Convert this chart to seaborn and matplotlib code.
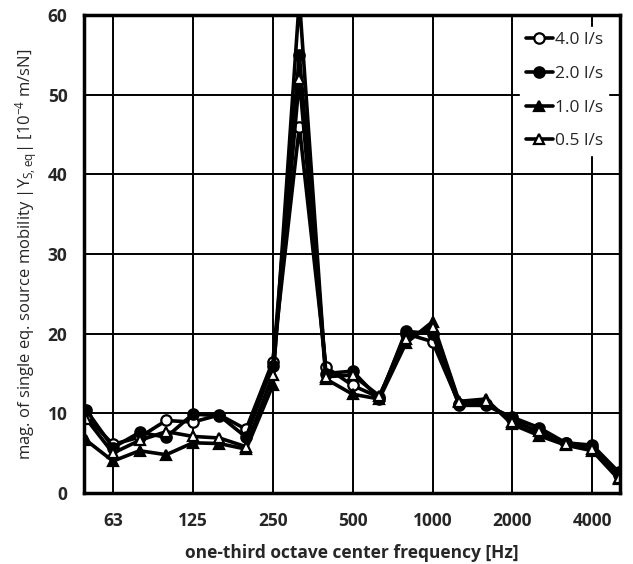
import numpy as np
import pandas as pd
import matplotlib
matplotlib.use("Agg")
import matplotlib.pyplot as plt
import seaborn as sns

# one-third octave bands 50 Hz .. 5000 Hz
freqs = [50, 63, 80, 100, 125, 160, 200, 250, 315, 400, 500, 630,
         800, 1000, 1250, 1600, 2000, 2500, 3150, 4000, 5000]
tick_labels = ["63", "125", "250", "500", "1000", "2000", "4000"]

flow_40 = [9.6, 6.1, 7.0, 9.1, 8.9, 9.8, 8.0, 16.5, 46.0, 15.8, 13.5, 12.0,
           20.0, 19.0, 11.2, 11.2, 9.3, 7.5, 6.3, 5.6, 2.2]
flow_20 = [10.4, 5.7, 7.6, 7.0, 9.9, 9.7, 7.0, 16.0, 55.0, 15.0, 15.3, 11.8,
           20.3, 20.0, 11.0, 11.0, 9.5, 8.2, 6.3, 6.0, 2.6]
flow_10 = [6.6, 4.0, 5.3, 4.8, 6.3, 6.2, 5.5, 13.5, 62.0, 14.3, 12.4, 11.8,
           18.8, 21.5, 11.5, 11.8, 8.6, 7.2, 6.0, 5.3, 1.7]
flow_05 = [9.3, 5.0, 6.6, 7.7, 7.1, 6.9, 5.8, 14.8, 52.0, 14.6, 14.8, 12.2,
           19.3, 20.8, 11.4, 11.5, 8.9, 7.8, 6.1, 5.5, 1.9]

labels = ["4.0 l/s", "2.0 l/s", "1.0 l/s", "0.5 l/s"]
series = [flow_40, flow_20, flow_10, flow_05]
markers = ["o", "o", "^", "^"]
faces = ["white", "black", "black", "white"]

sns.set_style("white")
plt.rcParams["font.family"] = ["Open Sans", "DejaVu Sans"]
plt.rcParams["mathtext.default"] = "regular"

fig = plt.figure(figsize=(6.33, 5.64), dpi=100)
ax = fig.add_axes([0.133, 0.126, 0.846, 0.847])

idx = np.arange(len(freqs))
for lab, vals, m, fc in zip(labels, series, markers, faces):
    df = pd.DataFrame({"band": idx, "val": vals})
    sns.lineplot(data=df, x="band", y="val", ax=ax, color="black", lw=2.6,
                 marker=m, markersize=7.5, markerfacecolor=fc,
                 markeredgecolor="black", markeredgewidth=1.6, label=lab)

ax.set_xlim(-0.08, 20.03)
ax.set_ylim(0, 60)
ax.set_xticks([1, 4, 7, 10, 13, 16, 19])
ax.set_xticklabels(tick_labels)
ax.set_yticks(range(0, 61, 10))
ax.grid(True, color="black", lw=1.4)
ax.tick_params(axis="x", length=0, pad=14, labelsize=12.5)
ax.tick_params(axis="y", length=0, pad=12, labelsize=12.5)
for t in ax.get_xticklabels() + ax.get_yticklabels():
    t.set_fontweight("bold")
for s in ax.spines.values():
    s.set_linewidth(2.5)
    s.set_color("black")

ax.set_xlabel("one-third octave center frequency [Hz]", fontsize=12.5,
              fontweight="bold", labelpad=10)
ax.set_ylabel("mag. of single eq. source mobility |Y$_{S,eq}$| [10$^{-4}$ m/sN]",
              fontsize=12, labelpad=6)

leg = ax.legend(loc="upper right", frameon=True, fancybox=False,
                edgecolor="white", framealpha=1, handlelength=1.6,
                handletextpad=0.1, fontsize=12.5, labelspacing=1.02,
                borderaxespad=0.65, borderpad=0.3)

fig.savefig("out.png", dpi=100)
